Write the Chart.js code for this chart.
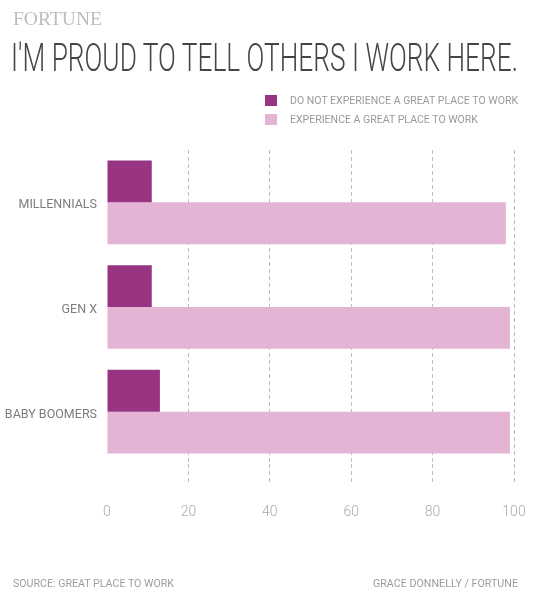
<!DOCTYPE html>
<html lang="en">

<head>
    <script src="https://cdn.jsdelivr.net/npm/chart.js"></script>
    <meta charset="UTF-8">
    <title>I'm proud to tell others I work here.</title>
    <style>
        body {
            margin: 0;
            padding: 0;
            background: #fff;
            font-family: Roboto, "Noto Sans", sans-serif;
        }

        .page {
            position: relative;
            width: 545px;
            height: 600px;
            overflow: hidden;
        }

        .fit {
            position: absolute;
            white-space: nowrap;
            display: inline-block;
            transform-origin: left center;
        }

        .logo {
            left: 13px;
            top: 8px;
            font-family: "Liberation Serif", "DejaVu Serif", serif;
            font-size: 19px;
            color: #bcbcbc;
        }

        .title {
            left: 11px;
            top: 35px;
            font-size: 38px;
            font-weight: 300;
            color: #454545;
            line-height: 46px;
        }

        .legend-box {
            position: absolute;
            left: 265px;
            width: 12px;
            height: 11px;
        }

        .legend-text {
            left: 290px;
            font-size: 10px;
            color: #999;
            line-height: 12px;
        }

        .footer {
            top: 578px;
            font-size: 10px;
            color: #9c9c9c;
            line-height: 12px;
        }

        #chartWrap {
            position: absolute;
            left: 0;
            top: 0;
            width: 545px;
            height: 600px;
        }
    </style>
</head>

<body>
    <div class="page">
        <div id="chartWrap"><canvas id="barChart"></canvas></div>

        <span class="fit logo" data-w="89">FORTUNE</span>
        <span class="fit title" data-w="507">I'M PROUD TO TELL OTHERS I WORK HERE.</span>

        <div class="legend-box" style="top: 95px; background: #983481;"></div>
        <span class="fit legend-text" style="top: 95px;" data-w="228">DO NOT EXPERIENCE A GREAT PLACE TO WORK</span>
        <div class="legend-box" style="top: 114px; background: #e3b4d4;"></div>
        <span class="fit legend-text" style="top: 114px;" data-w="188">EXPERIENCE A GREAT PLACE TO WORK</span>

        <span class="fit footer" style="left: 13px;" data-w="161">SOURCE: GREAT PLACE TO WORK</span>
        <span class="fit footer" id="credit" data-w="145">GRACE DONNELLY / FORTUNE</span>
    </div>

    <script>
        // data
        const generations = ['MILLENNIALS', 'GEN X', 'BABY BOOMERS'];
        const notGreatPlace = [11, 11, 13];
        const greatPlace = [98, 99, 99];
        const xTicks = [0, 20, 40, 60, 80, 100];

        const darkPurple = '#983481';
        const lightPink = '#e3b4d4';

        // squeeze the html texts to the widths of the reference (condensed type)
        document.querySelectorAll('.fit').forEach(function (el) {
            const target = parseFloat(el.dataset.w);
            const w = el.getBoundingClientRect().width;
            el.style.transform = 'scaleX(' + (target / w) + ')';
        });
        const credit = document.getElementById('credit');
        credit.style.left = (518 - parseFloat(credit.dataset.w)) + 'px';

        const ctx = document.getElementById('barChart').getContext('2d');
        const myChart = new Chart(ctx, {
            type: 'bar',
            data: {
                labels: generations,
                datasets: [{
                    label: 'DO NOT EXPERIENCE A GREAT PLACE TO WORK',
                    data: notGreatPlace,
                    backgroundColor: darkPurple
                }, {
                    label: 'EXPERIENCE A GREAT PLACE TO WORK',
                    data: greatPlace,
                    backgroundColor: lightPink
                }]
            },
            options: {
                indexAxis: 'y', // horizontal bars
                responsive: true,
                maintainAspectRatio: false,
                animation: false,
                categoryPercentage: 0.8,
                barPercentage: 1.0,
                layout: {
                    padding: { top: 150, right: 31, bottom: 76, left: 0 }
                },
                plugins: {
                    legend: { display: false },
                    tooltip: { enabled: false }
                },
                scales: {
                    x: {
                        min: 0,
                        max: 100,
                        afterBuildTicks: function (scale) {
                            scale.ticks = xTicks.map(v => ({ value: v }));
                        },
                        afterFit: function (scale) {
                            scale.height = 60;
                            scale.paddingLeft = 0;
                            scale.paddingRight = 0;
                        },
                        grid: {
                            color: c => (c.tick && c.tick.value === 0) ? 'rgba(0,0,0,0)' : '#bdbdbd',
                            lineWidth: 1,
                            drawTicks: true,
                            tickLength: 19,
                            tickBorderDash: [4, 3]
                        },
                        border: { display: false, dash: [4, 3] },
                        ticks: {
                            color: '#ababab',
                            padding: 21,
                            font: { family: 'Roboto', size: 14, weight: '300' }
                        }
                    },
                    y: {
                        afterFit: function (scale) {
                            scale.width = 107;
                        },
                        grid: { display: false, drawTicks: false },
                        border: { display: false },
                        ticks: {
                            color: '#7d7d7d',
                            padding: 10,
                            labelOffset: 3,
                            font: { family: 'Roboto', size: 12.5 }
                        }
                    }
                }
            }
        });
    </script>
</body>

</html>
